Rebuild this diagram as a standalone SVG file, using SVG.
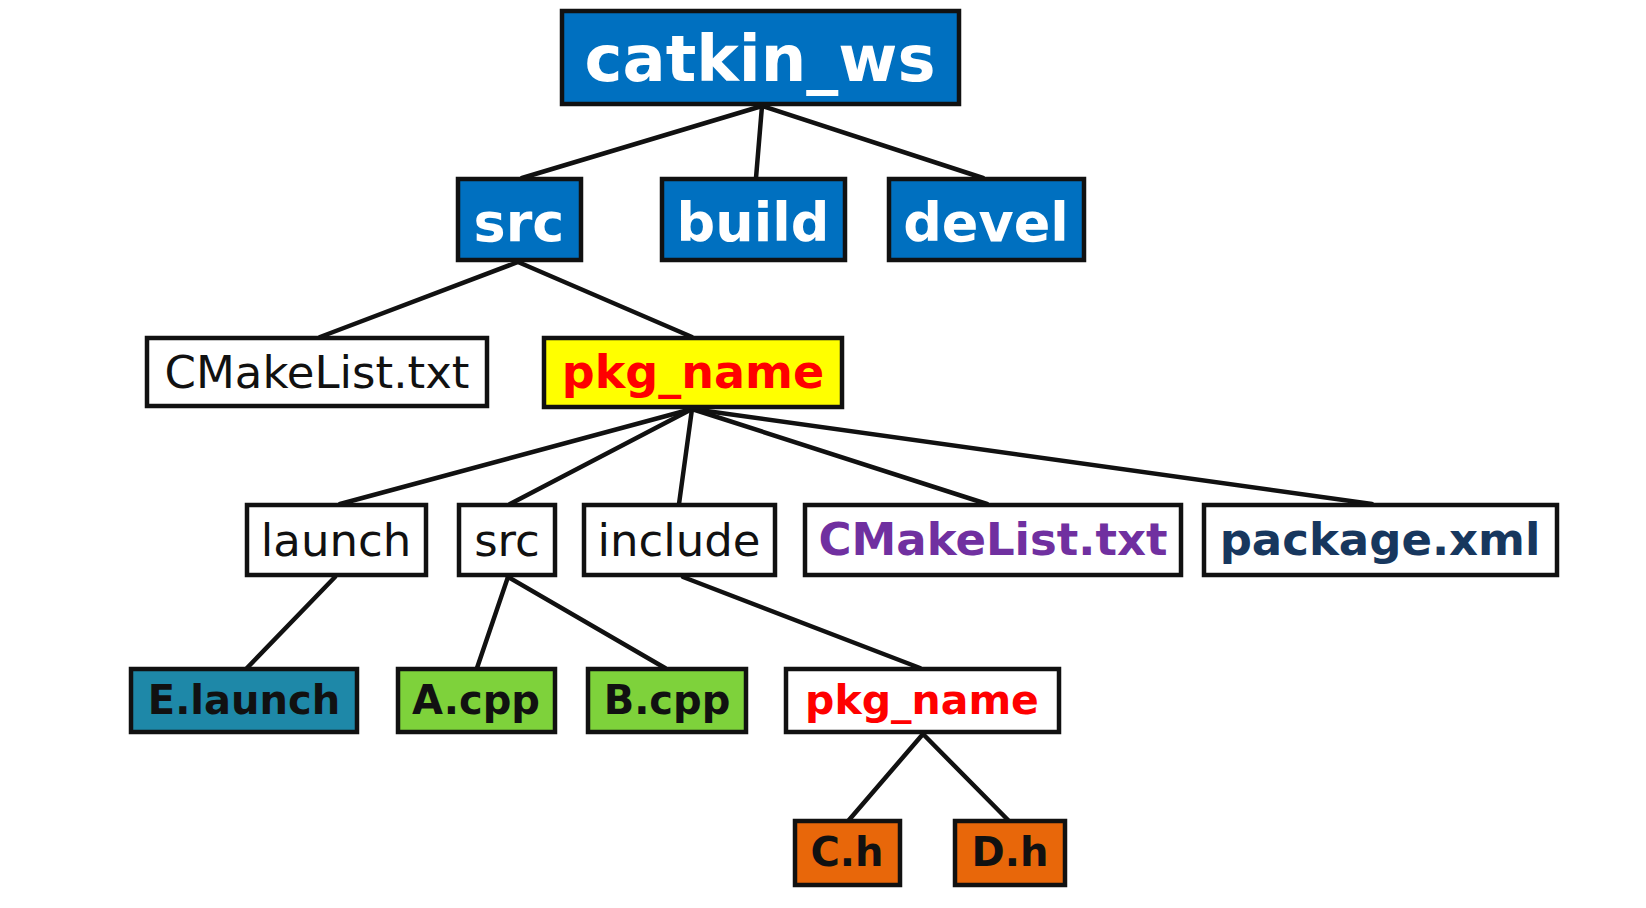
<svg xmlns="http://www.w3.org/2000/svg" width="1646" height="908" viewBox="0 0 1646 908">
<style>
.box{stroke:#111;stroke-width:4.5}
.blue{fill:#0070C0}
.white{fill:#FFFFFF}
.yellow{fill:#FFFF00}
.teal{fill:#1E88A8}
.green{fill:#7ED23B}
.orange{fill:#E8670A}
text{font-family:"DejaVu Sans","Verdana",sans-serif;text-anchor:middle}
.b{font-weight:bold}
.l0{font-size:64px;fill:#FFFFFF}
.l1{font-size:54px;fill:#FFFFFF}
.reg{font-size:45px;fill:#111}
.bold45{font-size:45px}
.bold40{font-size:40px;fill:#111}
.red{fill:#FF0000}
.purple{fill:#7030A0}
.navy{fill:#17375E}
.conn line{stroke:#111;stroke-width:4.5;stroke-linecap:round}
</style>
<rect width="1646" height="908" fill="#FFFFFF"/>
<g id="connectors" class="conn">
<line x1="762" y1="106" x2="522" y2="178"/>
<line x1="762" y1="106" x2="756" y2="178"/>
<line x1="762" y1="106" x2="983" y2="178"/>
<line x1="518" y1="262" x2="320" y2="337"/>
<line x1="518" y1="262" x2="692" y2="337"/>
<line x1="692" y1="409" x2="340" y2="504"/>
<line x1="692" y1="409" x2="510" y2="504"/>
<line x1="692" y1="409" x2="679" y2="504"/>
<line x1="692" y1="409" x2="987" y2="504"/>
<line x1="692" y1="409" x2="1372" y2="504"/>
<line x1="335" y1="577" x2="247" y2="668"/>
<line x1="508" y1="577" x2="477" y2="668"/>
<line x1="508" y1="577" x2="665" y2="668"/>
<line x1="683" y1="577" x2="920" y2="668"/>
<line x1="923" y1="734" x2="849" y2="820"/>
<line x1="923" y1="734" x2="1008" y2="820"/>
</g>
<g id="catkin_ws"><rect class="box blue" x="562" y="11" width="397" height="93"/><text class="b l0" x="760" y="81">catkin_ws</text></g>
<g id="src"><rect class="box blue" x="458" y="179" width="123" height="81"/><text class="b l1" x="519" y="241">src</text></g>
<g id="build"><rect class="box blue" x="662" y="179" width="183" height="81"/><text class="b l1" x="753" y="241">build</text></g>
<g id="devel"><rect class="box blue" x="889" y="179" width="195" height="81"/><text class="b l1" x="986" y="241">devel</text></g>
<g id="cmakelist_ws"><rect class="box white" x="147" y="338" width="340" height="68"/><text class="reg" x="317" y="388">CMakeList.txt</text></g>
<g id="pkg_name"><rect class="box yellow" x="544" y="338" width="298" height="69"/><text class="b bold45 red" x="693" y="388" style="font-size:46px">pkg_name</text></g>
<g id="launch"><rect class="box white" x="247" y="505" width="179" height="70"/><text class="reg" x="336" y="556">launch</text></g>
<g id="src_pkg"><rect class="box white" x="459" y="505" width="96" height="70"/><text class="reg" x="507" y="556">src</text></g>
<g id="include"><rect class="box white" x="584" y="505" width="191" height="70"/><text class="reg" x="679" y="556">include</text></g>
<g id="cmakelist_pkg"><rect class="box white" x="805" y="505" width="376" height="70"/><text class="b bold45 purple" x="993" y="555">CMakeList.txt</text></g>
<g id="package_xml"><rect class="box white" x="1204" y="505" width="353" height="70"/><text class="b bold45 navy" x="1380" y="555">package.xml</text></g>
<g id="e_launch"><rect class="box teal" x="131" y="669" width="226" height="63"/><text class="b bold40" x="244" y="714">E.launch</text></g>
<g id="a_cpp"><rect class="box green" x="398" y="669" width="157" height="63"/><text class="b bold40" x="476" y="714">A.cpp</text></g>
<g id="b_cpp"><rect class="box green" x="588" y="669" width="158" height="63"/><text class="b bold40" x="667" y="714">B.cpp</text></g>
<g id="pkg_name_inc"><rect class="box white" x="786" y="669" width="273" height="63"/><text class="b red" x="922" y="714" style="font-size:41px">pkg_name</text></g>
<g id="c_h"><rect class="box orange" x="795" y="821" width="105" height="64"/><text class="b bold40" x="847" y="866">C.h</text></g>
<g id="d_h"><rect class="box orange" x="955" y="821" width="110" height="64"/><text class="b bold40" x="1010" y="866">D.h</text></g>
</svg>
